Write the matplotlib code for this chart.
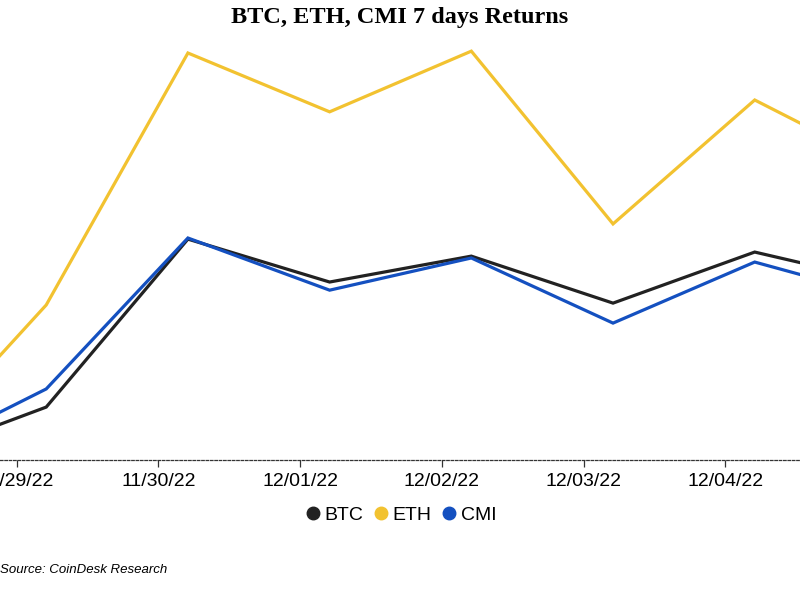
import matplotlib
matplotlib.use("Agg")
import matplotlib.pyplot as plt
import matplotlib.dates as mdates
import numpy as np
import pandas as pd

dates = ["2022-11-28 05:00", "2022-11-29 05:00", "2022-11-30 05:00", "2022-12-01 05:00",
         "2022-12-02 05:00", "2022-12-03 05:00", "2022-12-04 05:00", "2022-12-05 05:00"]
btc = [0.0, 1.43, 5.97, 4.81, 5.51, 4.24, 5.62, 4.73]
eth = [0.0, 4.19, 11.00, 9.41, 11.05, 6.38, 9.73, 7.78]
cmi = [0.0, 1.92, 6.00, 4.59, 5.46, 3.70, 5.35, 4.30]
tick_dates = ["2022-11-29", "2022-11-30", "2022-12-01", "2022-12-02", "2022-12-03", "2022-12-04"]
tick_labels = ["11/29/22", "11/30/22", "12/01/22", "12/02/22", "12/03/22", "12/04/22"]

x = pd.to_datetime(dates)
ticks = pd.to_datetime(tick_dates)

fig = plt.figure(figsize=(8, 6), dpi=100)
ax = fig.add_axes([0.0, 1 - 460 / 600, 1.0, (460 - 40) / 600])

c_btc, c_eth, c_cmi = "#222222", "#F2C230", "#1450C0"
ax.plot(x, btc, color=c_btc, lw=2.3, label="BTC", solid_joinstyle="miter")
ax.plot(x, eth, color=c_eth, lw=2.3, label="ETH", solid_joinstyle="miter")
ax.plot(x, cmi, color=c_cmi, lw=2.3, label="CMI", solid_joinstyle="miter")

left = ticks[0] - pd.Timedelta(days=16.7 / 141.7)
right = ticks[0] + pd.Timedelta(days=(800 - 16.7) / 141.7)
ax.set_xlim(left, right)
ax.set_ylim(0, (460 - 40) / 37)

for s in ["top", "right", "left"]:
    ax.spines[s].set_visible(False)
ax.spines["bottom"].set_linestyle((0, (2, 1.5)))
ax.spines["bottom"].set_linewidth(0.9)
ax.spines["bottom"].set_color("#333333")
ax.set_yticks([])
ax.set_xticks(ticks)
ax.set_xticklabels(tick_labels, fontfamily="Liberation Sans", fontsize=14)
ax.tick_params(axis="x", length=5, width=0.9, color="#333333", pad=4)

fig.text(0.5, 1 - 18 / 600, "BTC, ETH, CMI 7 days Returns", ha="center", va="center",
         fontfamily="Liberation Serif", fontweight="bold", fontsize=17.5)

handles = [plt.Line2D([], [], marker="o", ls="", color=c, markersize=9) for c in (c_btc, c_eth, c_cmi)]
fig.legend(handles, ["BTC", "ETH", "CMI"], loc="center", bbox_to_anchor=(0.5, 1 - 515 / 600),
           ncol=3, frameon=False, handletextpad=0.1, columnspacing=0.4, handlelength=1.0,
           prop={"family": "Liberation Sans", "size": 14})

fig.text(0.0, 1 - 570 / 600, "Source: CoinDesk Research", ha="left", va="center",
         fontfamily="Liberation Sans", fontstyle="italic", fontsize=9.5)

fig.savefig("out.png", dpi=100)
